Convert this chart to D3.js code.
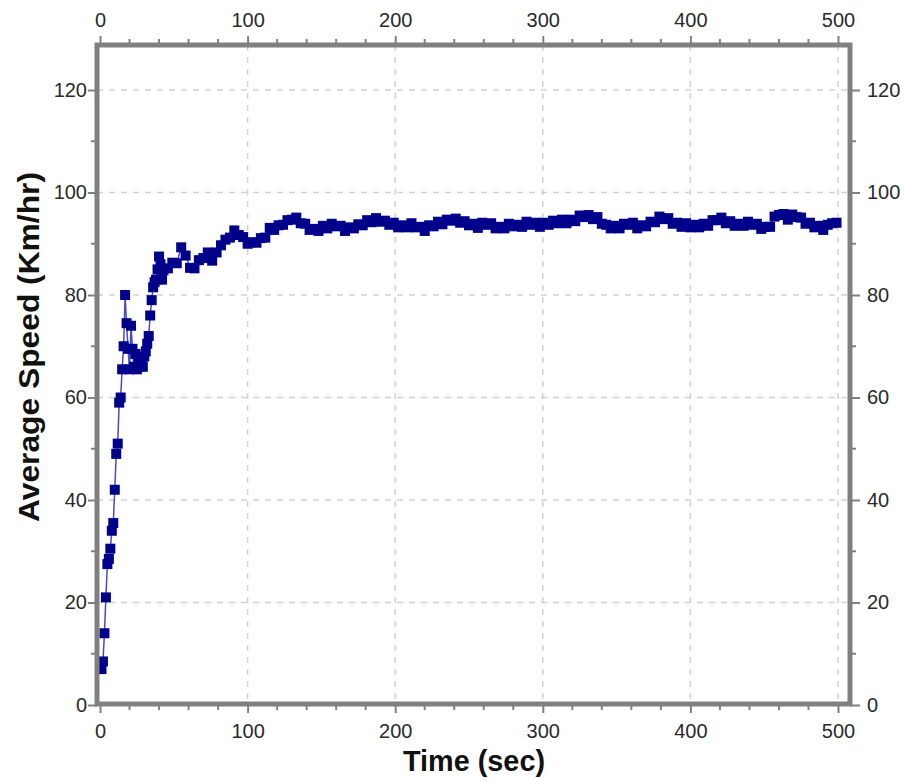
<!DOCTYPE html>
<html><head><meta charset="utf-8">
<script src="https://cdn.jsdelivr.net/npm/d3@7"></script>
<style>body{margin:0;background:#fff}svg{display:block}</style>
</head><body><svg id="c" width="907" height="782"></svg>
<script>
// ---- data ----
const earlyTime  = [1,2,3,4,5,6,7,8,9,10,11,12,13,14,15,16,17,18,19,20,21,22,23,24,25,26,27,28,29,30,31,32,33,34,35,36,37,38,39,40,41,42];
const earlySpeed = [7,8.5,14,21,27.5,28.5,30.5,34,35.5,42,49,51,59,60,65.5,70,80,74.5,69.5,65.5,74,69.5,66,68.5,65.5,67,66,66.5,66,68,69,70.5,72,76,79,81.5,82.5,83,85,87.5,86,83];
const lateTime  = [43,46,49,52,55,58,61,64,67,70,73,76,79,82,85,88,91,94,97,100,
  103,106,109,112,115,118,121,124,127,130,133,136,139,142,145,148,151,154,157,160,
  163,166,169,172,175,178,181,184,187,190,193,196,199,202,205,208,211,214,217,220,
  223,226,229,232,235,238,241,244,247,250,253,256,259,262,265,268,271,274,277,280,
  283,286,289,292,295,298,301,304,307,310,313,316,319,322,325,328,331,334,337,340,
  343,346,349,352,355,358,361,364,367,370,373,376,379,382,385,388,391,394,397,400,
  403,406,409,412,415,418,421,424,427,430,433,436,439,442,445,448,451,454,457,460,
  463,466,469,472,475,478,481,484,487,490,493,496,499];
const lateSpeed = [84.8,85.2,86.3,86.2,89.3,87.7,85.3,85.2,86.8,87.2,88.3,86.7,88.3,89.7,90.8,91.2,92.6,91.7,91.3,90.0,
  90.3,90.2,91.1,91.2,93.1,92.7,93.6,93.7,94.6,94.7,95.1,94.0,93.9,92.7,92.9,92.5,93.5,93.0,93.9,93.4,
  93.5,92.5,93.2,93.0,93.8,93.6,94.6,94.2,95.0,94.3,94.5,93.7,94.1,93.2,93.6,93.2,94.0,93.2,93.3,92.5,
  93.6,93.4,94.3,93.8,94.7,94.5,94.9,94.1,94.4,93.6,93.9,93.1,94.1,93.7,94.0,93.0,93.3,93.0,93.9,93.4,
  93.7,93.3,94.3,93.7,94.1,93.3,94.1,93.7,94.5,94.0,94.7,94.0,94.7,94.4,95.5,95.2,95.6,94.8,95.2,93.9,
  93.7,93.0,93.5,93.0,93.9,93.7,94.1,93.0,93.6,93.4,94.3,94.2,95.3,94.8,95.0,93.9,94.1,93.3,94.0,93.2,
  93.7,93.2,93.9,93.5,94.6,94.6,95.1,94.0,94.4,93.5,93.9,93.5,94.3,93.7,93.9,92.9,93.3,93.3,95.3,95.6,
  95.8,94.7,95.7,95.2,95.1,93.9,94.1,93.2,93.5,92.7,93.7,94.0,94.1];
const xTickValues = [0,100,200,300,400,500];
const yTickValues = [0,20,40,60,80,100,120];
const xMinorTicks = [20,40,60,80,120,140,160,180,220,240,260,280,320,340,360,380,420,440,460,480];
const yMinorTicks = [10,30,50,70,90,110];
const xTitle = "Time (sec)";
const yTitle = "Average Speed (Km/hr)";

const times = earlyTime.concat(lateTime);
const speeds = earlySpeed.concat(lateSpeed);
const data = times.map((t,i)=>({t, v: speeds[i]}));

// ---- layout ----
const svg = d3.select("#c");
const FONT = "'Liberation Sans', Arial, sans-serif";
const x = d3.scaleLinear().domain([0,500]).range([100,838]);
const y = d3.scaleLinear().domain([0,120]).range([705,90]);
const L = 97, R = 850, T = 45, B = 704;
const frameCol = "#808080";

// grid
const grid = svg.append("g").attr("stroke","#d2d2d2").attr("stroke-width",1.5).attr("stroke-dasharray","6,6");
grid.selectAll("line.gx").data(xTickValues.filter(d=>d>0)).join("line")
  .attr("x1",d=>x(d)).attr("x2",d=>x(d)).attr("y1",T).attr("y2",B);
grid.selectAll("line.gy").data(yTickValues.filter(d=>d>0)).join("line")
  .attr("y1",d=>y(d)).attr("y2",d=>y(d)).attr("x1",L).attr("x2",R);

// axes
function styleAxis(g){
  g.select(".domain").remove();
  g.selectAll(".tick line").attr("stroke",frameCol).attr("stroke-width",2);
  g.selectAll(".tick text").attr("fill","#2a2a2a").attr("font-size",20).attr("font-family",FONT);
}
function minor(g, orient, vals, scale){
  g.selectAll("line.minor").data(vals).join("line").attr("class","minor")
    .attr("stroke",frameCol).attr("stroke-width",2)
    .each(function(d){
      const s = d3.select(this);
      if (orient==="bottom") s.attr("x1",scale(d)).attr("x2",scale(d)).attr("y1",0).attr("y2",6);
      if (orient==="top") s.attr("x1",scale(d)).attr("x2",scale(d)).attr("y1",0).attr("y2",-6);
      if (orient==="left") s.attr("y1",scale(d)).attr("y2",scale(d)).attr("x1",0).attr("x2",-6);
      if (orient==="right") s.attr("y1",scale(d)).attr("y2",scale(d)).attr("x1",0).attr("x2",6);
    });
}
const gB = svg.append("g").attr("transform",`translate(0,${B})`)
  .call(d3.axisBottom(x).tickValues(xTickValues).tickSize(9).tickPadding(11)).call(styleAxis);
minor(gB,"bottom",xMinorTicks,x);
const gT = svg.append("g").attr("transform",`translate(0,${T})`)
  .call(d3.axisTop(x).tickValues(xTickValues).tickSize(9).tickPadding(9)).call(styleAxis);
minor(gT,"top",xMinorTicks,x);
const gL = svg.append("g").attr("transform",`translate(${L},0)`)
  .call(d3.axisLeft(y).tickValues(yTickValues).tickSize(9).tickPadding(1)).call(styleAxis);
minor(gL,"left",yMinorTicks,y);
const gR = svg.append("g").attr("transform",`translate(${R},0)`)
  .call(d3.axisRight(y).tickValues(yTickValues).tickSize(10).tickPadding(7)).call(styleAxis);
minor(gR,"right",yMinorTicks,y);

// data line + markers
svg.append("path").datum(data)
  .attr("fill","none").attr("stroke","#4a4ac4").attr("stroke-width",1.5)
  .attr("d", d3.line().x(d=>x(d.t)).y(d=>y(d.v)));
const ms = 10;
svg.append("g").selectAll("rect").data(data).join("rect")
  .attr("x",d=>x(d.t)-ms/2).attr("y",d=>y(d.v)-ms/2)
  .attr("width",ms).attr("height",ms).attr("fill","#00008b");

// frame
svg.append("rect").attr("x",L).attr("y",T).attr("width",R-L).attr("height",B-T)
  .attr("fill","none").attr("stroke",frameCol).attr("stroke-width",5);

// titles
svg.append("text").attr("x",474).attr("y",771).attr("text-anchor","middle")
  .attr("font-family",FONT).attr("font-weight","bold").attr("font-size",29).attr("fill","#111")
  .attr("textLength",142).attr("lengthAdjust","spacingAndGlyphs").text(xTitle);
svg.append("text").attr("transform","translate(39,347) rotate(-90)").attr("text-anchor","middle")
  .attr("font-family",FONT).attr("font-weight","bold").attr("font-size",29).attr("fill","#111")
  .attr("textLength",350).attr("lengthAdjust","spacingAndGlyphs").text(yTitle);
</script></body></html>
